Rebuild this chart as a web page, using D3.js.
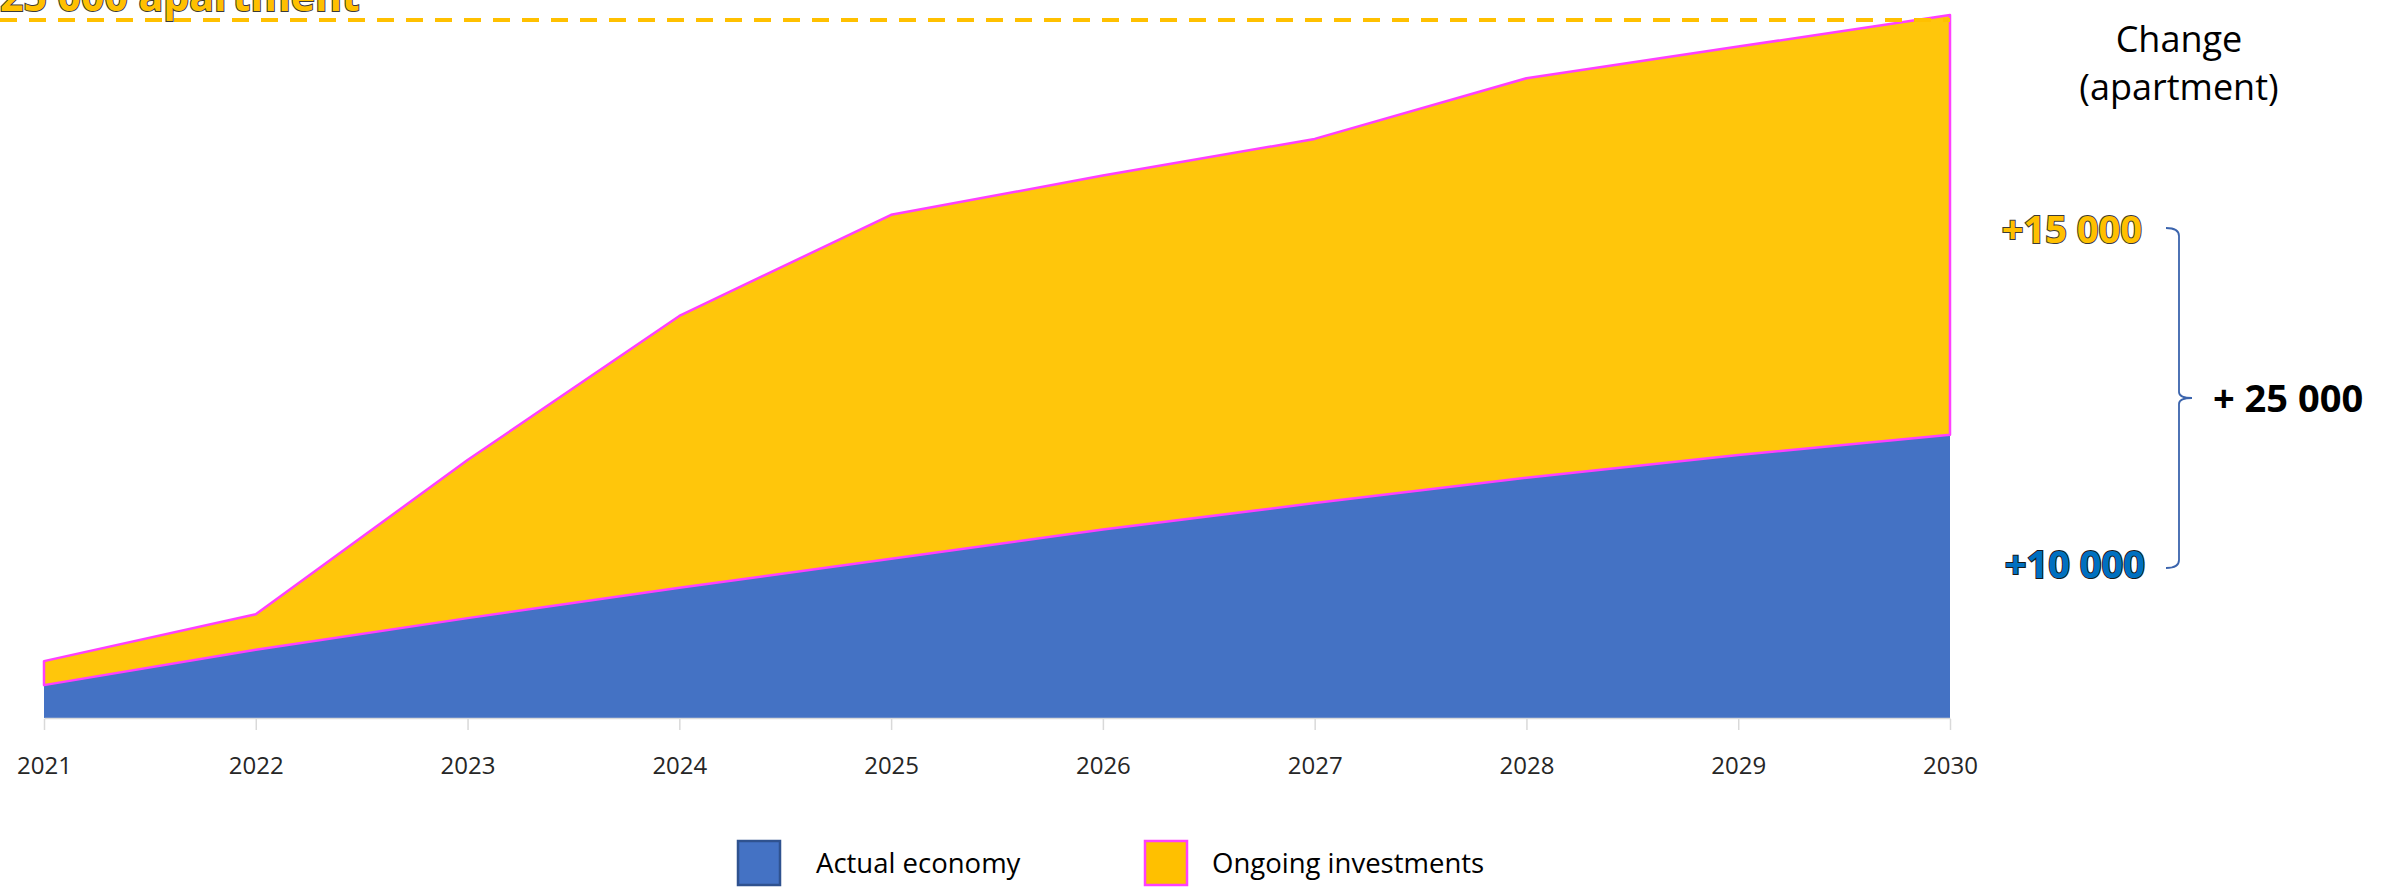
<!DOCTYPE html>
<html>
<head>
<meta charset="utf-8">
<script src="https://cdn.jsdelivr.net/npm/d3@7"></script>
<style>
  html, body { margin: 0; padding: 0; background: #fff; }
  svg { display: block; }
</style>
</head>
<body>
<svg id="chart" width="2382" height="888"></svg>
<script>
// ---- data ----
const years = ["2021","2022","2023","2024","2025","2026","2027","2028","2029","2030"];
const actualEconomy = [1300, 2700, 3950, 5150, 6300, 7450, 8500, 9500, 10400, 11200];
const ongoingInvestments = [950, 1400, 6250, 10750, 13600, 14000, 14400, 15800, 16150, 16600];
const seriesNames = ["Actual economy", "Ongoing investments"];
const topLabel = "25 000 apartment";
const changeTitle = ["Change", "(apartment)"];
const changeLabels = ["+15 000", "+10 000", "+ 25 000"];

// ---- layout ----
const svg = d3.select("#chart");
const x = d3.scalePoint().domain(years).range([44, 1950]);
const rows = years.map((yr, i) => ({year: yr, actual: actualEconomy[i], ongoing: ongoingInvestments[i]}));
const stack = d3.stack().keys(["actual", "ongoing"]);
const stacked = stack(rows);
const yMax = d3.max(stacked[1], d => d[1]);
const y = d3.scaleLinear().domain([0, yMax]).range([718, 15]);

const colors = {actual: "#4472C4", ongoing: "#FFC60B"};
const magenta = "#FF40FF";

const area = d3.area()
  .x(d => x(d.data.year))
  .y0(d => y(d[0]))
  .y1(d => y(d[1]));

// areas
svg.append("path").datum(stacked[0])
  .attr("d", area).attr("fill", colors.actual);
svg.append("path").datum(stacked[1])
  .attr("d", area).attr("fill", colors.ongoing)
  .attr("stroke", magenta).attr("stroke-width", 2.5).attr("stroke-linejoin", "round");

// x axis
const axis = svg.append("g").attr("transform", `translate(0,${y(0)})`)
  .call(d3.axisBottom(x).tickSizeInner(12).tickSizeOuter(0).tickPadding(27));
axis.select(".domain").attr("stroke", "#d9d9d9").attr("stroke-width", 1.5);
axis.selectAll(".tick line").attr("stroke", "#d9d9d9").attr("stroke-width", 1.5).attr("y1", 1);
axis.selectAll(".tick text")
  .attr("font-family", "'Open Sans', sans-serif").attr("font-size", 24)
  .attr("fill", "#262626");

// dashed top line and label
const topY = y(yMax) + 5;
svg.append("line")
  .attr("x1", 0).attr("x2", x(years[years.length - 1]))
  .attr("y1", topY).attr("y2", topY)
  .attr("stroke", "#FFC000").attr("stroke-width", 4)
  .attr("stroke-dasharray", "17,12");
svg.append("text")
  .attr("x", 0).attr("y", 11)
  .attr("font-family", "'Open Sans', sans-serif").attr("font-weight", 700)
  .attr("font-size", 41)
  .attr("fill", "#FFC000").attr("stroke", "#3a3a3a").attr("stroke-width", 2)
  .attr("paint-order", "stroke")
  .text(topLabel);

// right annotation
const rightX = 2179;
svg.append("text").attr("x", rightX).attr("y", 52).attr("text-anchor", "middle")
  .attr("font-family", "'Open Sans', sans-serif").attr("font-size", 36).attr("fill", "#000")
  .text(changeTitle[0]);
svg.append("text").attr("x", rightX).attr("y", 100).attr("text-anchor", "middle")
  .attr("font-family", "'Open Sans', sans-serif").attr("font-size", 36).attr("fill", "#000")
  .text(changeTitle[1]);

svg.append("text").attr("x", 2142).attr("y", 243).attr("text-anchor", "end")
  .attr("font-family", "'Open Sans', sans-serif").attr("font-weight", 700).attr("font-size", 38)
  .attr("fill", "#FFC000").attr("stroke", "#3a3a3a").attr("stroke-width", 2).attr("paint-order", "stroke")
  .text(changeLabels[0]);
svg.append("text").attr("x", 2145).attr("y", 578).attr("text-anchor", "end")
  .attr("font-family", "'Open Sans', sans-serif").attr("font-weight", 700).attr("font-size", 38)
  .attr("fill", "#0070C0").attr("stroke", "#1a1a1a").attr("stroke-width", 2).attr("paint-order", "stroke")
  .text(changeLabels[1]);
svg.append("text").attr("x", 2213).attr("y", 412)
  .attr("font-family", "'Open Sans', sans-serif").attr("font-weight", 700).attr("font-size", 38)
  .attr("fill", "#000")
  .text(changeLabels[2]);

// brace
const bx0 = 2166, bx1 = 2179, bTop = 228, bMid = 398, bBot = 568, bTip = 2192;
svg.append("path")
  .attr("d", `M${bx0},${bTop} Q${bx1},${bTop} ${bx1},${bTop + 8} L${bx1},${bMid - 6} Q${bx1},${bMid} ${bTip},${bMid} Q${bx1},${bMid} ${bx1},${bMid + 6} L${bx1},${bBot - 8} Q${bx1},${bBot} ${bx0},${bBot}`)
  .attr("fill", "none").attr("stroke", "#3B64AD").attr("stroke-width", 1.8);

// legend
const legend = svg.append("g");
const legItems = [
  {name: seriesNames[0], fill: colors.actual, stroke: "#2F528F", x: 738, tx: 816},
  {name: seriesNames[1], fill: "#FFC000", stroke: magenta, x: 1145, tx: 1212}
];
legItems.forEach(it => {
  legend.append("rect").attr("x", it.x).attr("y", 841).attr("width", 42).attr("height", 44)
    .attr("fill", it.fill).attr("stroke", it.stroke).attr("stroke-width", 2.5);
  legend.append("text").attr("x", it.tx).attr("y", 873)
    .attr("font-family", "'Open Sans', sans-serif").attr("font-size", 27.5).attr("fill", "#000")
    .text(it.name);
});
</script>
</body>
</html>
